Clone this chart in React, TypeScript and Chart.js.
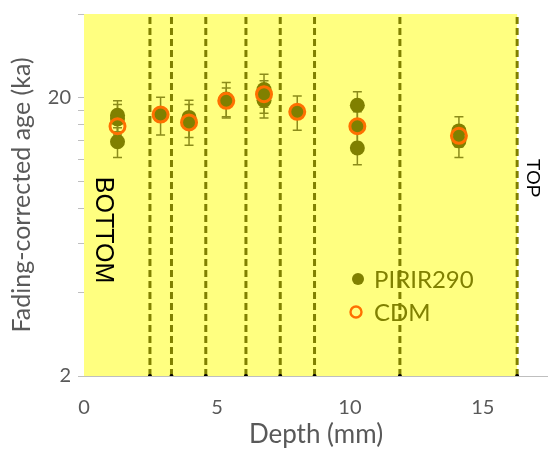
import React, { useEffect, useRef } from "react";
import { Chart, registerables } from "chart.js";

Chart.register(...registerables);

// ---- Data ----
const pirirDepths = [1.26, 1.26, 1.26, 2.88, 3.95, 3.95, 5.35, 5.35, 6.77, 6.77, 6.77, 8.02, 10.28, 10.28, 10.28, 14.1, 14.1];
const pirirAges = [17.3, 16.8, 13.9, 17.4, 17.0, 16.2, 19.8, 19.4, 21.4, 20.3, 19.6, 17.8, 18.8, 15.8, 13.2, 15.2, 14.0];
const pirirErrors = [2.2, 2.1, 1.7, 2.7, 2.6, 2.7, 2.9, 2.3, 2.9, 2.7, 2.7, 2.5, 2.2, 2.0, 1.7, 1.9, 1.8];

const cdmDepths = [1.26, 2.88, 3.95, 5.35, 6.77, 8.02, 10.28, 14.1];
const cdmAges = [15.8, 17.4, 16.3, 19.5, 20.6, 17.8, 15.8, 14.6];

const boundaryDepths = [2.48, 3.29, 4.58, 6.09, 7.38, 8.67, 11.88, 16.29];
const shadedRange = [0, 16.29];

const xTicks = [0, 5, 10, 15];
const yTicks = [2, 4, 6, 8, 10, 12, 14, 16, 18, 20, 40];
const yLabelled = [2, 20];

const X_MIN = 0;
const X_MAX = 17.45;
const Y_MIN = 2;
const Y_MAX = 40;

const OLIVE = "#808000";
const ERR_OLIVE = "#8C8C1A";
const ORANGE = "#FF7000";
const YELLOW = "#FFFF80";
const GRAY_TEXT = "#595959";
const AXIS_GRAY = "#BFBFBF";
const FONT = "Lato";

function zeroPadding(scale: any) {
  scale.paddingLeft = 0;
  scale.paddingRight = 0;
  scale.paddingTop = 0;
  scale.paddingBottom = 0;
}

export default function App() {
  const canvasRef = useRef<HTMLCanvasElement | null>(null);

  useEffect(() => {
    document.body.style.margin = "0";
    const canvas = canvasRef.current;
    if (!canvas) return;

    const backgroundPlugin = {
      id: "bgAndErrors",
      beforeDatasetsDraw(chart: any) {
        const { ctx, chartArea, scales } = chart;
        const xs = scales.x;
        const ys = scales.y;
        ctx.save();
        ctx.fillStyle = YELLOW;
        const x0 = xs.getPixelForValue(shadedRange[0]);
        const x1 = xs.getPixelForValue(shadedRange[1]);
        ctx.fillRect(x0, chartArea.top, x1 - x0, chartArea.bottom - chartArea.top);

        // error bars
        ctx.strokeStyle = ERR_OLIVE;
        ctx.lineWidth = 1.5;
        for (let i = 0; i < pirirDepths.length; i++) {
          const px = xs.getPixelForValue(pirirDepths[i]);
          const yt = ys.getPixelForValue(pirirAges[i] + pirirErrors[i]);
          const yb = ys.getPixelForValue(pirirAges[i] - pirirErrors[i]);
          ctx.beginPath();
          ctx.moveTo(px, yt);
          ctx.lineTo(px, yb);
          ctx.moveTo(px - 4.5, yt);
          ctx.lineTo(px + 4.5, yt);
          ctx.moveTo(px - 4.5, yb);
          ctx.lineTo(px + 4.5, yb);
          ctx.stroke();
        }
        ctx.restore();
      },
      afterDraw(chart: any) {
        const { ctx } = chart;
        ctx.save();
        // Legend
        ctx.fillStyle = OLIVE;
        ctx.beginPath();
        ctx.arc(358, 279, 6, 0, Math.PI * 2);
        ctx.fill();
        ctx.strokeStyle = ORANGE;
        ctx.lineWidth = 2.4;
        ctx.beginPath();
        ctx.arc(356, 312, 5.5, 0, Math.PI * 2);
        ctx.stroke();
        ctx.fillStyle = OLIVE;
        ctx.font = `24px ${FONT}`;
        ctx.textBaseline = "middle";
        ctx.textAlign = "left";
        ctx.fillText("PIRIR290", 374, 280);
        ctx.fillText("CDM", 374, 313);

        // BOTTOM / TOP labels
        ctx.fillStyle = "#000000";
        ctx.textAlign = "center";
        ctx.font = `25px "Liberation Sans", Arial, sans-serif`;
        ctx.save();
        ctx.translate(103, 230);
        ctx.rotate(Math.PI / 2);
        ctx.fillText("BOTTOM", 0, 0);
        ctx.restore();
        ctx.font = `19px "Liberation Sans", Arial, sans-serif`;
        ctx.save();
        ctx.translate(532, 178);
        ctx.rotate(Math.PI / 2);
        ctx.fillText("TOP", 0, 0);
        ctx.restore();
        ctx.restore();
      },
    };

    const boundaryDatasets = boundaryDepths.map((d) => ({
      type: "line" as const,
      label: "boundary",
      data: [
        { x: d, y: Y_MIN },
        { x: d, y: Y_MAX },
      ],
      showLine: true,
      borderColor: OLIVE,
      borderWidth: 3,
      borderDash: [7, 4],
      pointRadius: [2, 0],
      pointBackgroundColor: "#000000",
      pointBorderWidth: 0,
      fill: false,
    }));

    const chart = new Chart(canvas, {
      type: "scatter",
      data: {
        datasets: [
          {
            label: "CDM",
            data: cdmDepths.map((d, i) => ({ x: d, y: cdmAges[i] })),
            pointRadius: 7.5,
            pointBorderWidth: 3,
            pointBorderColor: ORANGE,
            pointBackgroundColor: "rgba(0,0,0,0)",
          },
          {
            label: "PIRIR290",
            data: pirirDepths.map((d, i) => ({ x: d, y: pirirAges[i] })),
            pointRadius: 7.5,
            pointBorderWidth: 0,
            pointBackgroundColor: OLIVE,
          },
          ...boundaryDatasets,
        ] as any,
      },
      options: {
        responsive: false,
        animation: false,
        events: [],
        layout: { autoPadding: false, padding: { top: 14, right: 0, left: 0, bottom: 0 } },
        plugins: {
          legend: { display: false },
          tooltip: { enabled: false },
        },
        scales: {
          x: {
            type: "linear",
            min: X_MIN,
            max: X_MAX,
            afterBuildTicks: (scale: any) => {
              scale.ticks = xTicks.map((v) => ({ value: v }));
            },
            afterFit: (scale: any) => {
              scale.height = 74;
              zeroPadding(scale);
            },
            grid: { display: false },
            border: { display: true, color: AXIS_GRAY, width: 1 },
            ticks: {
              autoSkip: false,
              maxRotation: 0,
              padding: 12,
              color: GRAY_TEXT,
              font: { family: FONT, size: 20 },
            },
            title: {
              display: true,
              text: "Depth (mm)",
              color: GRAY_TEXT,
              font: { family: FONT, size: 26 },
              padding: { top: 0, bottom: 0 },
            },
          },
          y: {
            type: "logarithmic",
            min: Y_MIN,
            max: Y_MAX,
            afterBuildTicks: (scale: any) => {
              scale.ticks = yTicks.map((v) => ({ value: v }));
            },
            afterFit: (scale: any) => {
              scale.width = 84;
              zeroPadding(scale);
            },
            grid: {
              display: true,
              drawOnChartArea: false,
              drawTicks: true,
              tickLength: 6,
              color: AXIS_GRAY,
            },
            border: { display: true, color: AXIS_GRAY, width: 1 },
            ticks: {
              autoSkip: false,
              padding: 7,
              color: GRAY_TEXT,
              font: { family: FONT, size: 20 },
              callback: (v: any) => (yLabelled.includes(Number(v)) ? String(v) : ""),
            },
            title: {
              display: true,
              text: "Fading-corrected age (ka)",
              color: GRAY_TEXT,
              font: { family: FONT, size: 25 },
              padding: { top: 7, bottom: 0 },
            },
          },
        },
      },
      plugins: [backgroundPlugin],
    });

    return () => {
      chart.destroy();
    };
  }, []);

  return (
    <div style={{ width: 548, height: 450 }}>
      <canvas ref={canvasRef} width={548} height={450} style={{ display: "block" }} />
    </div>
  );
}
